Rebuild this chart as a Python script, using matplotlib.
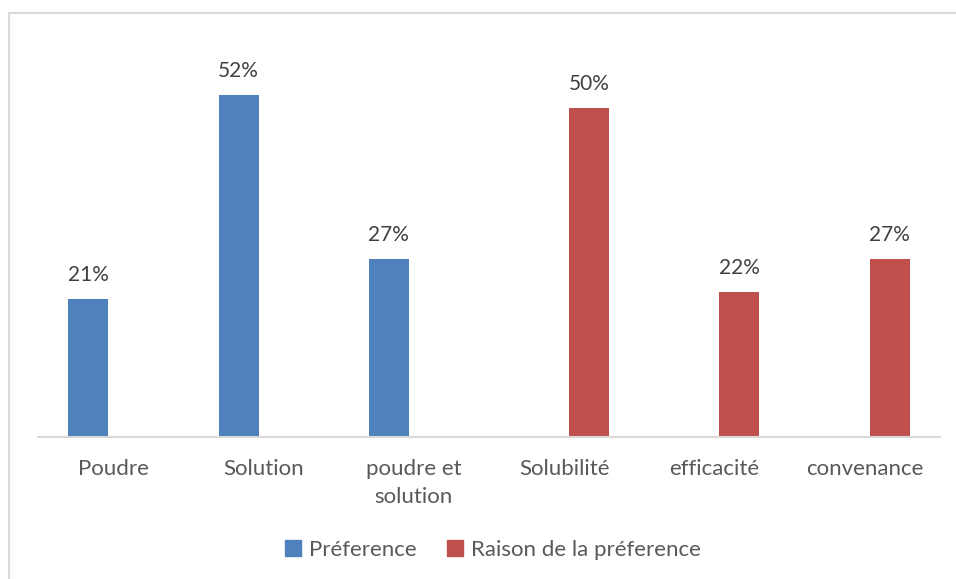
import numpy as np
import matplotlib.pyplot as plt
from matplotlib.lines import Line2D
from matplotlib.patches import Patch

categories = ['Poudre', 'Solution', 'poudre et\nsolution', 'Solubilité', 'efficacité', 'convenance']
preference = [21, 52, 27, 0, 0, 0]
raison = [0, 0, 0, 50, 22, 27]
series_names = ['Préference', 'Raison de la préference']

blue = '#4f81bd'
red = '#c0504d'
plt.rcParams['font.family'] = ['Lato', 'DejaVu Sans']

fig = plt.figure(figsize=(9.56, 5.79), dpi=100)
ax = fig.add_axes([38 / 956, 142 / 579, 902 / 956, 395 / 579])

x = np.arange(len(categories))
w = 0.266
off = 0.166
b1 = ax.bar(x - off, preference, w, color=blue)
b2 = ax.bar(x + off, raison, w, color=red)

for bars, vals in ((b1, preference), (b2, raison)):
    for b, v in zip(bars, vals):
        if v > 0:
            ax.annotate(f'{v}%', (b.get_x() + b.get_width() / 2, v),
                        xytext=(0, 10), textcoords='offset points',
                        ha='center', va='bottom', fontsize=15, color='#404040')

ax.set_xlim(-0.5, len(categories) - 0.5)
ax.set_ylim(0, 60)
ax.set_yticks([])
ax.set_xticks(x)
ax.set_xticklabels(categories, fontsize=16, color='#595959', linespacing=1.5)
ax.tick_params(axis='x', length=0, pad=16)
for s in ['top', 'right', 'left']:
    ax.spines[s].set_visible(False)
ax.spines['bottom'].set_color('#d9d9d9')
ax.spines['bottom'].set_linewidth(1.5)

# chart border (only top and left visible)
fig.add_artist(Line2D([9 / 956, 1], [1 - 13 / 579, 1 - 13 / 579], color='#d9d9d9', lw=1.5))
fig.add_artist(Line2D([9 / 956, 9 / 956], [0, 1 - 13 / 579], color='#d9d9d9', lw=1.5))

handles = [Patch(color=blue), Patch(color=red)]
fig.legend(handles, series_names, loc='center', bbox_to_anchor=(493 / 956, 1 - 550 / 579),
           ncol=2, frameon=False, fontsize=16, handlelength=0.7, handleheight=0.7,
           handletextpad=0.35, columnspacing=1.4, labelcolor='#595959')

fig.savefig('out.png', dpi=100)
